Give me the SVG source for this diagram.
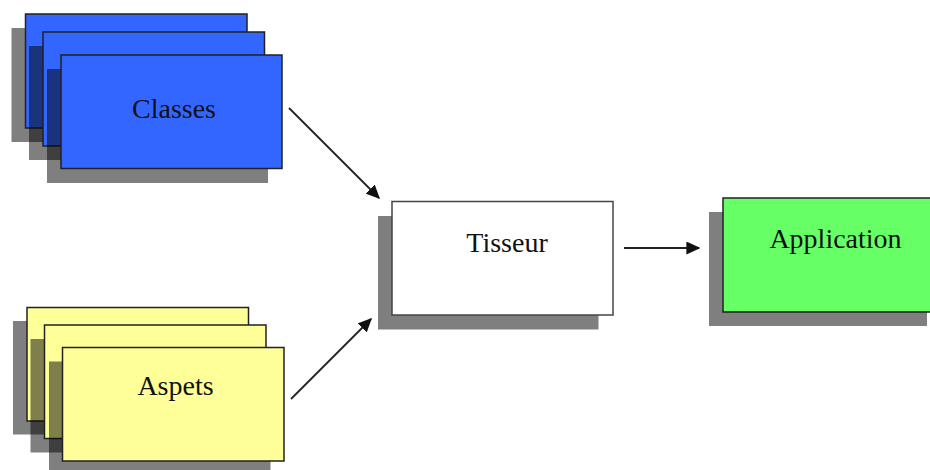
<svg xmlns="http://www.w3.org/2000/svg" width="930" height="470" viewBox="0 0 930 470">
  <style>
    .sh { fill: #000; fill-opacity: 0.5; }
    .card { stroke: #222; stroke-width: 1.5; }
    .blue { fill: #3366ff; }
    .yellow { fill: #ffff99; }
    .white { fill: #ffffff; stroke: #444; }
    .green { fill: #66ff66; }
    .lbl { font-family: "Liberation Serif", "Times New Roman", serif; font-size: 28px; fill: #111; text-anchor: middle; }
    .conn { stroke: #222; stroke-width: 1.8; fill: none; }
  </style>
  <defs>
    <marker id="arr" viewBox="0 0 10 10" refX="9" refY="5" markerWidth="14" markerHeight="13" markerUnits="userSpaceOnUse" orient="auto" preserveAspectRatio="none">
      <path d="M0,0 L10,5 L0,10 z" fill="#111"/>
    </marker>
  </defs>
  <rect width="930" height="470" fill="#ffffff"/>

  <g id="classes">
    <rect class="sh" x="11.5" y="28" width="221.5" height="114"/>
    <rect class="card blue" x="25.5" y="14" width="221.5" height="114"/>
    <rect class="sh" x="29" y="46" width="221.5" height="114"/>
    <rect class="card blue" x="43" y="32" width="221.5" height="114"/>
    <rect class="sh" x="47" y="69" width="221" height="114"/>
    <rect class="card blue" x="61" y="55" width="221" height="113.5"/>
    <text class="lbl" x="174" y="118">Classes</text>
  </g>

  <g id="aspets">
    <rect class="sh" x="13" y="321" width="221.5" height="113.5"/>
    <rect class="card yellow" x="27" y="307.5" width="221.5" height="113.5"/>
    <rect class="sh" x="30.5" y="339" width="221.5" height="113.5"/>
    <rect class="card yellow" x="44.5" y="325" width="221.5" height="113.5"/>
    <rect class="sh" x="49" y="361.5" width="221.5" height="113.5"/>
    <rect class="card yellow" x="62.5" y="347.5" width="221.5" height="113.5"/>
    <text class="lbl" x="175.5" y="395">Aspets</text>
  </g>

  <g id="tisseur">
    <rect class="sh" x="378" y="216" width="220.5" height="113.5"/>
    <rect class="card white" x="392" y="201.5" width="221" height="113.5"/>
    <text class="lbl" x="507" y="252">Tisseur</text>
  </g>

  <g id="application">
    <rect class="sh" x="709" y="212" width="218" height="114"/>
    <rect class="card green" x="723" y="198" width="215" height="114"/>
    <text class="lbl" x="835.5" y="248">Application</text>
  </g>

  <g id="connectors">
    <line class="conn" x1="289" y1="108" x2="379" y2="198" marker-end="url(#arr)"/>
    <line class="conn" x1="291" y1="399" x2="371" y2="319" marker-end="url(#arr)"/>
    <line class="conn" x1="624" y1="248" x2="699" y2="248" marker-end="url(#arr)"/>
  </g>
</svg>
